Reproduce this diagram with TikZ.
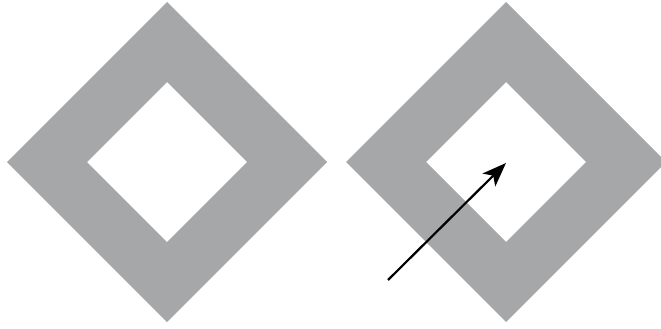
\documentclass[tikz,border=0pt]{standalone}
\usetikzlibrary{arrows.meta}
\definecolor{ringgray}{RGB}{166,167,169}
\tikzset{ring/.style={fill=ringgray,draw=none,even odd rule},
  pointer/.style={line width=2.2pt,-{Stealth[length=24pt,width=18pt,inset=6pt]}}}
\begin{document}
\begin{tikzpicture}[x=1pt,y=-1pt]
\useasboundingbox (0,0) rectangle (661,329);
\clip (0,0) rectangle (661,329);
\fill[ring] (167,2) -- (327,162) -- (167,322) -- (7,162) -- cycle
            (167,82) -- (247,162) -- (167,242) -- (87,162) -- cycle;
\fill[ring] (506,2) -- (666,162) -- (506,322) -- (346,162) -- cycle
            (506,82) -- (586,162) -- (506,242) -- (426,162) -- cycle;
\coordinate (tail) at (388,280);
\coordinate (head) at (506,163);
\draw[pointer] (tail) -- (head);
\end{tikzpicture}
\end{document}
